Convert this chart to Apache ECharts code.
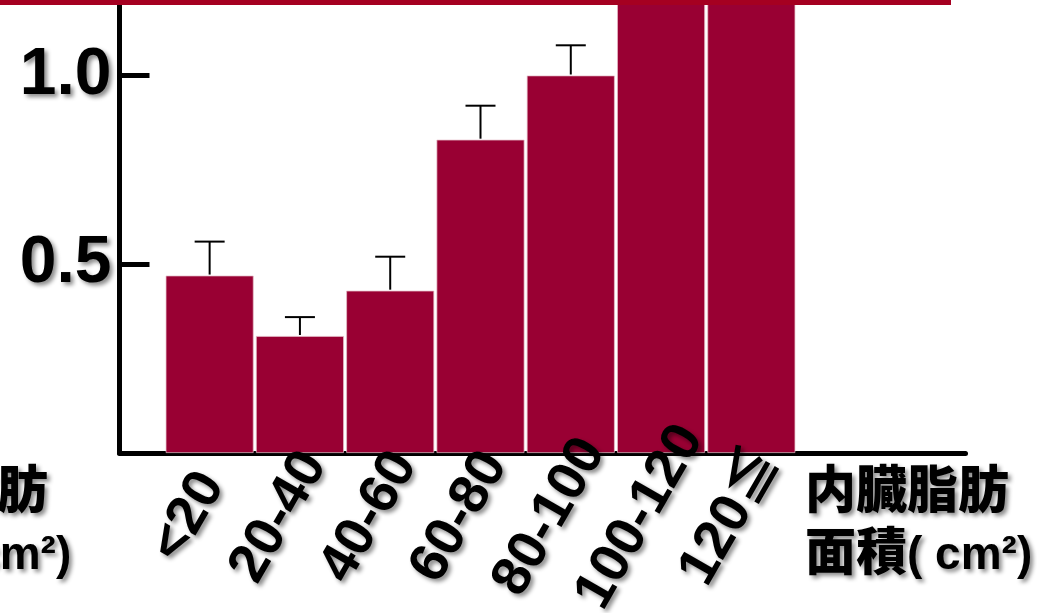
<!DOCTYPE html>
<html>
<head>
<meta charset="utf-8">
<script src="https://cdn.jsdelivr.net/npm/echarts@6/dist/echarts.min.js"></script>
<style>
  html, body { margin: 0; padding: 0; background: #ffffff; }
  #chart { width: 1037px; height: 613px; }
</style>
</head>
<body>
<div id="chart"></div>
<script>
// Visceral fat area groups (cm²)
const categories = ['<20', '20-40', '40-60', '60-80', '80-100', '100-120', '120≦'];
// Group means and their error (upper whisker length)
const means = [0.47, 0.31, 0.43, 0.83, 1.00, 1.35, 1.60];
const errors = [0.09, 0.05, 0.09, 0.09, 0.08, 0.10, 0.12];
// Labelled values on the vertical axis
const yTickLabels = [0.5, 1.0];
// Axis title: Japanese words, then the unit
const axisTitleLines = ['内臓脂肪', '面積'];
const axisTitleUnit = '( cm²)';

const Y_MAX = 1.2;
const PLOT_TOP = 0;
const PLOT_BOTTOM = 160;
const BAR_LEFT = 164.5;
const BAR_SPAN = 632;

const shadow = {
  textShadowColor: 'rgba(0,0,0,0.45)',
  textShadowBlur: 4,
  textShadowOffsetX: 3,
  textShadowOffsetY: 3
};

const chart = echarts.init(document.getElementById('chart'), null, { renderer: 'canvas' });

const hiddenY = (gridIndex) => ({
  type: 'value', gridIndex, min: 0, max: Y_MAX, show: false
});

const gridBox = (extra) => ({
  top: PLOT_TOP, bottom: PLOT_BOTTOM, containLabel: false, outerBoundsMode: 'none', ...extra
});

const titleFamily = '"Liberation Sans", "Noto Sans CJK JP", sans-serif';
const titleText = (x) => ({
  type: 'text', x, y: 463, z: 50,
  style: {
    text: '{w|' + axisTitleLines[0] + '}\n{w|' + axisTitleLines[1] + '}{u|' + axisTitleUnit + '}',
    rich: {
      w: { fontSize: 51, fontWeight: 900, lineHeight: 62, fontFamily: titleFamily, fill: '#000', ...shadow },
      u: { fontSize: 46, fontWeight: 'bold', lineHeight: 62, fontFamily: titleFamily, fill: '#000', ...shadow }
    }
  }
});

chart.setOption({
  animation: false,
  backgroundColor: '#ffffff',
  grid: [
    gridBox({ left: 119.5, right: 71.5 }),
    gridBox({ left: BAR_LEFT, width: BAR_SPAN }),
    gridBox({ left: BAR_LEFT - 21, width: BAR_SPAN })
  ],
  xAxis: [
    {
      type: 'value', gridIndex: 0, min: 0, max: 1,
      axisLine: { show: true, lineStyle: { color: '#000', width: 5 } },
      axisTick: { show: false }, axisLabel: { show: false }, splitLine: { show: false }
    },
    {
      type: 'category', gridIndex: 1, data: categories, show: false
    },
    {
      type: 'category', gridIndex: 2, data: categories, z: 10,
      axisLine: { show: false }, axisTick: { show: false }, splitLine: { show: false },
      axisLabel: {
        interval: 0, rotate: 60, margin: 64,
        align: 'center', verticalAlign: 'middle',
        color: '#000', fontSize: 55, fontWeight: 'bold',
        fontFamily: '"Liberation Sans", Arial, "Noto Sans CJK JP", sans-serif',
        ...shadow
      }
    }
  ],
  yAxis: [
    {
      type: 'value', gridIndex: 0, min: 0, max: Y_MAX, interval: 0.5,
      axisLine: { show: true, lineStyle: { color: '#000', width: 5 } },
      axisTick: { show: true, inside: true, length: 30, lineStyle: { color: '#000', width: 5 } },
      splitLine: { show: false },
      axisLabel: {
        margin: 8, color: '#000', fontSize: 66, fontWeight: 'bold',
        fontFamily: '"Liberation Sans", Arial, sans-serif',
        formatter: (v) => yTickLabels.some(t => Math.abs(t - v) < 1e-6) ? v.toFixed(1) : '',
        ...shadow
      }
    },
    hiddenY(1),
    hiddenY(2)
  ],
  series: [
    {
      type: 'bar', xAxisIndex: 1, yAxisIndex: 1,
      data: means, barWidth: 88,
      itemStyle: { color: '#990033', borderColor: 'rgba(230,190,200,0.9)', borderWidth: 0.8 }
    },
    {
      type: 'custom', xAxisIndex: 1, yAxisIndex: 1, clip: true, z: 5,
      data: means.map((m, i) => [i, m, m + errors[i]]),
      renderItem: (params, api) => {
        const base = api.coord([api.value(0), api.value(1)]);
        const top = api.coord([api.value(0), api.value(2)]);
        const half = 15;
        const style = { stroke: '#000', lineWidth: 2 };
        return {
          type: 'group',
          children: [
            { type: 'line', shape: { x1: base[0], y1: base[1] - 1, x2: top[0], y2: top[1] }, style },
            { type: 'line', shape: { x1: top[0] - half, y1: top[1], x2: top[0] + half, y2: top[1] }, style }
          ]
        };
      }
    }
  ],
  graphic: [
    {
      type: 'rect', left: 0, top: 0, z: 100,
      shape: { width: 951, height: 5 },
      style: { fill: '#a50021' }
    },
    titleText(805),
    titleText(-156)
  ]
});
</script>
</body>
</html>
